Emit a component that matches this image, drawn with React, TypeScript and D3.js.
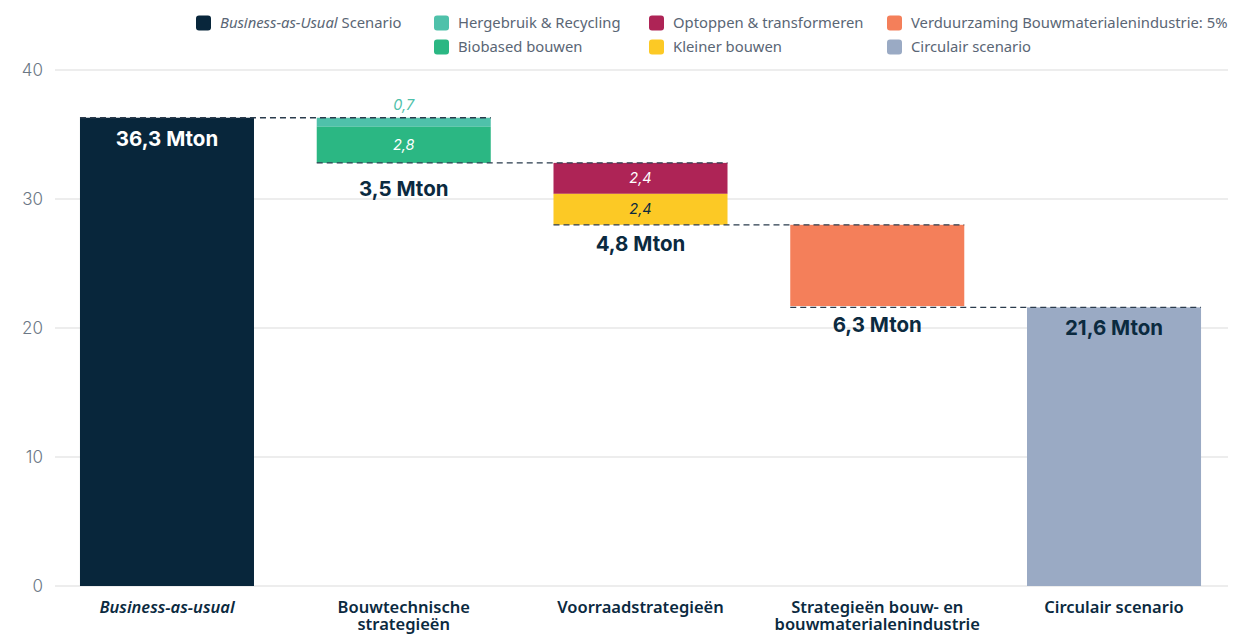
import React from "react";
import * as d3 from "d3";

const categories = ["Business-as-usual", "Bouwtechnische\nstrategieën", "Voorraadstrategieën", "Strategieën bouw- en\nbouwmaterialenindustrie", "Circulair scenario"];
const bauValue = 36.3;
const circularValue = 21.6;
const segmentSeries = ["Hergebruik & Recycling", "Biobased bouwen", "Optoppen & transformeren", "Kleiner bouwen", "Verduurzaming Bouwmaterialenindustrie: 5%"];
const segmentCategory = [1, 1, 2, 2, 3];
const segmentValues = [0.7, 2.8, 2.4, 2.4, 6.3];
const segmentLabels = ["0,7", "2,8", "2,4", "2,4", ""];
const totalLabels = ["36,3 Mton", "3,5 Mton", "4,8 Mton", "6,3 Mton", "21,6 Mton"];
const yTicks = [0, 10, 20, 30, 40];

const colors: Record<string, string> = {
  "Business-as-Usual Scenario": "#08263b",
  "Hergebruik & Recycling": "#4fc1aa",
  "Biobased bouwen": "#2bb783",
  "Optoppen & transformeren": "#ae2456",
  "Kleiner bouwen": "#fcc925",
  "Verduurzaming Bouwmaterialenindustrie: 5%": "#f47f5a",
  "Circulair scenario": "#9aaac4",
};
const segLabelColors = ["#4fc1aa", "#ffffff", "#ffffff", "#0b2a3f", "#ffffff"];

const legendCols = [
  ["Business-as-Usual Scenario"],
  ["Hergebruik & Recycling", "Biobased bouwen"],
  ["Optoppen & transformeren", "Kleiner bouwen"],
  ["Verduurzaming Bouwmaterialenindustrie: 5%", "Circulair scenario"],
];
const legendX = [196, 434, 649, 887];

const W = 1234, H = 635;
const dark = "#0b2a3f";
const labelFont = "Inter, 'Noto Sans', sans-serif";
const textFont = "'Noto Sans', 'Open Sans', sans-serif";

export default function App() {
  const y = d3.scaleLinear().domain([0, 40]).range([586, 70]);
  const x = d3.scaleBand<number>().domain(d3.range(5)).range([48.6, 1232.4]).paddingInner(0.265).paddingOuter(0.1325);
  const bw = x.bandwidth();

  let cur = bauValue;
  const segs = segmentValues.map((v, i) => {
    const top = cur;
    cur = cur - v;
    return { i, top, bottom: cur, v, cat: segmentCategory[i], series: segmentSeries[i] };
  });
  const catBottom: number[] = [bauValue, 0, 0, 0, circularValue];
  segs.forEach((s) => { catBottom[s.cat] = s.bottom; });
  const connLevels = [bauValue, catBottom[1], catBottom[2], circularValue];
  const totalOffsets = [0, 26, 19, 19];

  return (
    <svg width={W} height={H} style={{ position: "absolute", left: 0, top: 0 }}>
      {yTicks.map((t) => (
        <g key={t}>
          <line x1={55} x2={1228} y1={y(t)} y2={y(t)} stroke="#dcdcdc" strokeWidth={1.2} />
          <text x={43} y={y(t)} dy="0.35em" textAnchor="end" fontFamily={labelFont} fontWeight={300} fontSize={17} fill="#6b7785">{t}</text>
        </g>
      ))}
      <rect x={x(0)} y={y(bauValue)} width={bw} height={y(0) - y(bauValue)} fill={colors["Business-as-Usual Scenario"]} />
      <rect x={x(4)} y={y(circularValue)} width={bw} height={y(0) - y(circularValue)} fill={colors["Circulair scenario"]} />
      {segs.map((s) => (
        <rect key={s.i} x={x(s.cat)} y={y(s.top)} width={bw} height={y(s.bottom) - y(s.top)} fill={colors[s.series]} />
      ))}
      {connLevels.map((lv, k) => (
        <line key={k} x1={x(k)} x2={(x(k + 1) as number) + bw} y1={y(lv)} y2={y(lv)} stroke="#2a3b4c" strokeWidth={1.3} strokeDasharray="6,4" />
      ))}
      {segs.map((s) => {
        if (!segmentLabels[s.i]) return null;
        const h = y(s.bottom) - y(s.top);
        const cy = h < 14 ? y(s.top) - 13 : (y(s.top) + y(s.bottom)) / 2;
        return (
          <text key={s.i} x={(x(s.cat) as number) + bw / 2} y={cy} dy="0.35em" textAnchor="middle" fontFamily={labelFont} fontStyle="italic" fontSize={14.5} fill={segLabelColors[s.i]}>{segmentLabels[s.i]}</text>
        );
      })}
      <text x={(x(0) as number) + bw / 2} y={y(bauValue) + 21} dy="0.35em" textAnchor="middle" fontFamily={labelFont} fontWeight={700} fontSize={20.5} fill="#ffffff">{totalLabels[0]}</text>
      {[1, 2, 3].map((c) => (
        <text key={c} x={(x(c) as number) + bw / 2} y={y(catBottom[c]) + totalOffsets[c]} dy="0.35em" textAnchor="middle" fontFamily={labelFont} fontWeight={700} fontSize={20.5} fill={dark}>{totalLabels[c]}</text>
      ))}
      <text x={(x(4) as number) + bw / 2} y={y(circularValue) + 20} dy="0.35em" textAnchor="middle" fontFamily={labelFont} fontWeight={700} fontSize={20.5} fill={dark}>{totalLabels[4]}</text>
      {categories.map((c, i) =>
        c.split("\n").map((line, j) => (
          <text key={`${i}-${j}`} x={(x(i) as number) + bw / 2} y={613 + j * 17} textAnchor="middle" fontFamily={textFont} fontWeight={600} fontSize={16.5} fill={dark} fontStyle={i === 0 ? "italic" : "normal"}>{line}</text>
        ))
      )}
      {legendCols.map((col, ci) =>
        col.map((name, ri) => (
          <g key={name} transform={`translate(${legendX[ci]},${23 + ri * 24})`}>
            <rect x={0} y={-7.5} width={15} height={15} rx={3} fill={colors[name]} />
            <text x={24} y={0} dy="0.35em" fontFamily={textFont} fontSize={14.8} fill="#5a6675">
              {name === "Business-as-Usual Scenario" ? (
                <>
                  <tspan fontStyle="italic">Business-as-Usual</tspan> Scenario
                </>
              ) : name}
            </text>
          </g>
        ))
      )}
    </svg>
  );
}
